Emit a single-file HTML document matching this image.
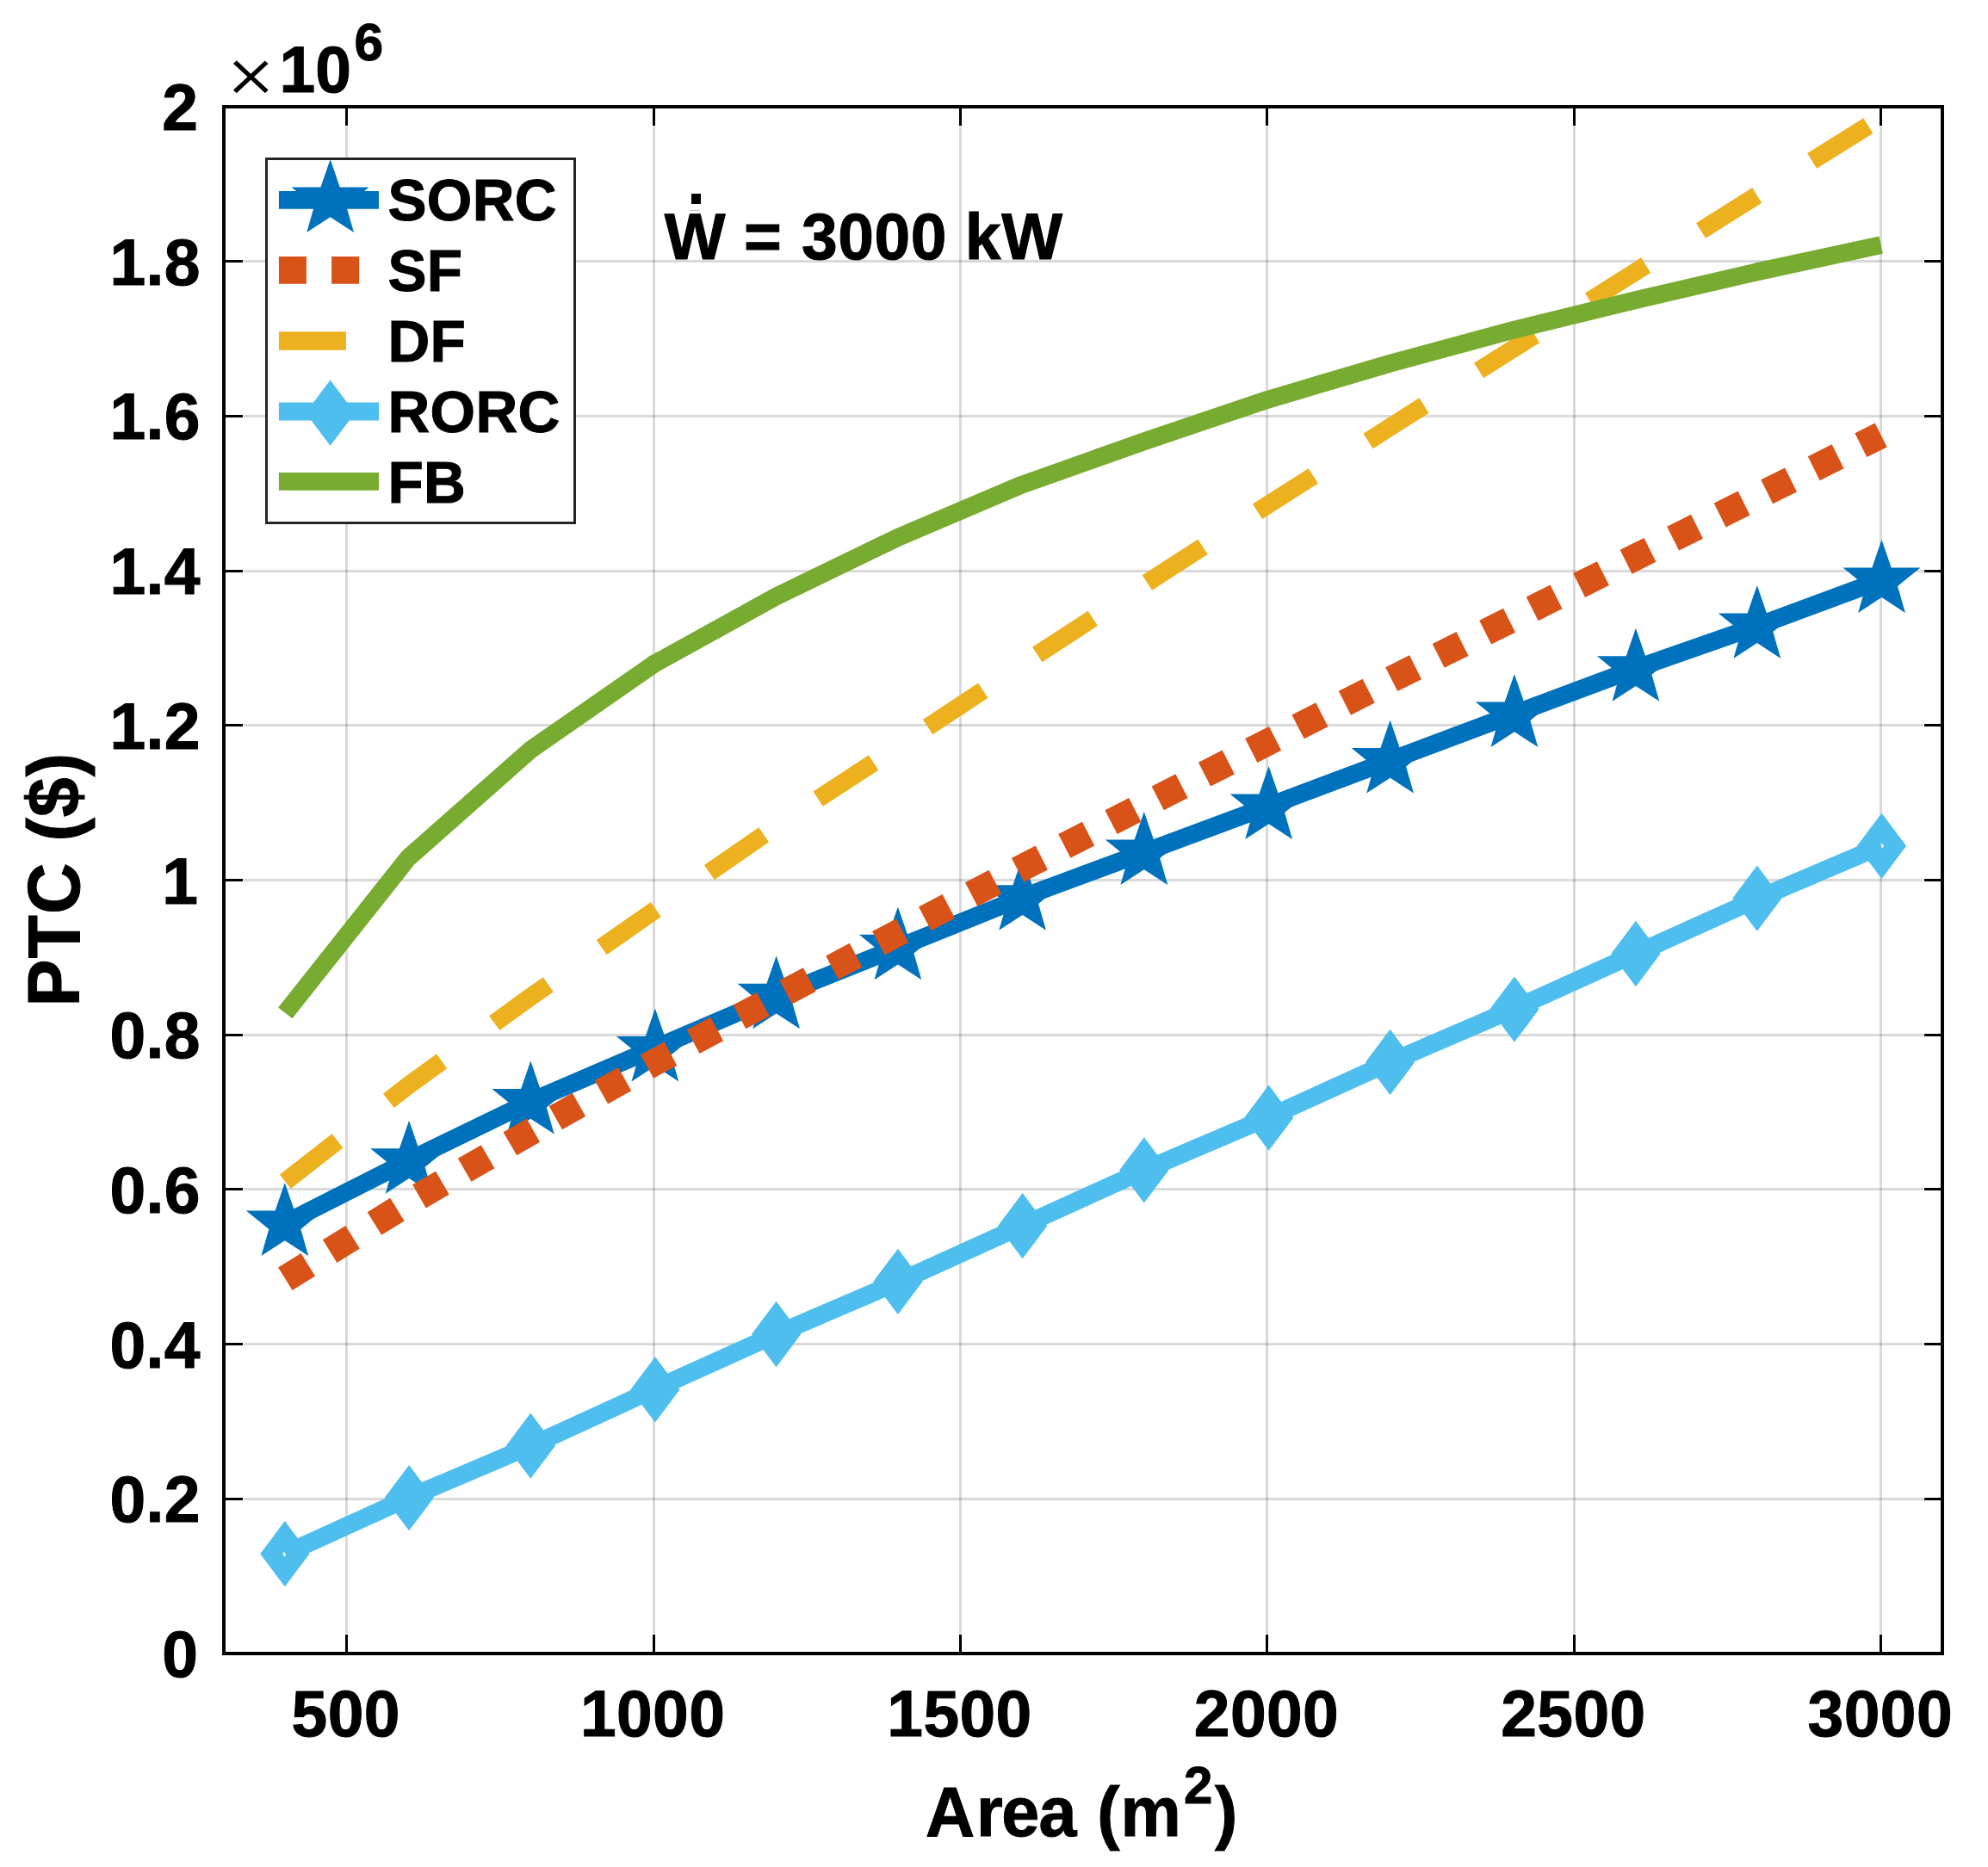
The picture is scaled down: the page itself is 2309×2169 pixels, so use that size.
<!DOCTYPE html>
<html lang="en"><head><meta charset="utf-8"><title>PTC vs Area</title>
<style>html,body{margin:0;padding:0;background:#fff;overflow:hidden}svg{display:block}text{font-family:"Liberation Sans",Arial,Helvetica,sans-serif;font-weight:700;fill:#000;stroke:#000;stroke-width:1px}</style></head><body>
<svg width="2309" height="2169" viewBox="0 0 2309 2169">
<rect width="2309" height="2169" fill="#fff"/>
<g stroke="#000" stroke-opacity="0.15" stroke-width="3" shape-rendering="crispEdges"><line x1="402.5" y1="147" x2="402.5" y2="1898"/><line x1="759.5" y1="147" x2="759.5" y2="1898"/><line x1="1115.5" y1="147" x2="1115.5" y2="1898"/><line x1="1471.5" y1="147" x2="1471.5" y2="1898"/><line x1="1828.5" y1="147" x2="1828.5" y2="1898"/><line x1="2184.5" y1="147" x2="2184.5" y2="1898"/><line x1="283" y1="1741.5" x2="2234" y2="1741.5"/><line x1="283" y1="1561.5" x2="2234" y2="1561.5"/><line x1="283" y1="1381.5" x2="2234" y2="1381.5"/><line x1="283" y1="1202.5" x2="2234" y2="1202.5"/><line x1="283" y1="1022.5" x2="2234" y2="1022.5"/><line x1="283" y1="842.5" x2="2234" y2="842.5"/><line x1="283" y1="663.5" x2="2234" y2="663.5"/><line x1="283" y1="483.5" x2="2234" y2="483.5"/><line x1="283" y1="303.5" x2="2234" y2="303.5"/></g>
<g stroke="#000" stroke-width="3" fill="none" shape-rendering="crispEdges"><rect x="260.0" y="124.0" width="1996.0" height="1797.0" stroke-width="4"/><line x1="402.5" y1="1920" x2="402.5" y2="1899"/><line x1="402.5" y1="125" x2="402.5" y2="146"/><line x1="759.5" y1="1920" x2="759.5" y2="1899"/><line x1="759.5" y1="125" x2="759.5" y2="146"/><line x1="1115.5" y1="1920" x2="1115.5" y2="1899"/><line x1="1115.5" y1="125" x2="1115.5" y2="146"/><line x1="1471.5" y1="1920" x2="1471.5" y2="1899"/><line x1="1471.5" y1="125" x2="1471.5" y2="146"/><line x1="1828.5" y1="1920" x2="1828.5" y2="1899"/><line x1="1828.5" y1="125" x2="1828.5" y2="146"/><line x1="2184.5" y1="1920" x2="2184.5" y2="1899"/><line x1="2184.5" y1="125" x2="2184.5" y2="146"/><line x1="261" y1="1741.5" x2="282" y2="1741.5"/><line x1="2255" y1="1741.5" x2="2235" y2="1741.5"/><line x1="261" y1="1561.5" x2="282" y2="1561.5"/><line x1="2255" y1="1561.5" x2="2235" y2="1561.5"/><line x1="261" y1="1381.5" x2="282" y2="1381.5"/><line x1="2255" y1="1381.5" x2="2235" y2="1381.5"/><line x1="261" y1="1202.5" x2="282" y2="1202.5"/><line x1="2255" y1="1202.5" x2="2235" y2="1202.5"/><line x1="261" y1="1022.5" x2="282" y2="1022.5"/><line x1="2255" y1="1022.5" x2="2235" y2="1022.5"/><line x1="261" y1="842.5" x2="282" y2="842.5"/><line x1="2255" y1="842.5" x2="2235" y2="842.5"/><line x1="261" y1="663.5" x2="282" y2="663.5"/><line x1="2255" y1="663.5" x2="2235" y2="663.5"/><line x1="261" y1="483.5" x2="282" y2="483.5"/><line x1="2255" y1="483.5" x2="2235" y2="483.5"/><line x1="261" y1="303.5" x2="282" y2="303.5"/><line x1="2255" y1="303.5" x2="2235" y2="303.5"/></g>
<g fill="none" stroke-linejoin="round" stroke-linecap="butt">
<polyline points="331.3,1421.0 473.9,1348.7 616.4,1279.5 759.0,1218.4 901.6,1157.3 1044.1,1100.3 1186.7,1042.8 1329.3,990.0 1471.9,937.0 1614.4,883.5 1757.0,830.0 1899.6,776.7 2042.1,726.9 2184.7,673.9" stroke="#0072BD" stroke-width="20.83"/>
<g fill="#0072BD" stroke="none"><polygon points="330.8,1374.1 342.0,1406.5 375.8,1406.5 349.3,1428.1 358.2,1459.0 330.8,1441.2 303.4,1459.0 312.3,1428.1 285.8,1406.5 319.6,1406.5"/><polygon points="475.1,1301.8 486.3,1334.2 520.1,1334.2 493.6,1355.8 502.5,1386.7 475.1,1368.9 447.7,1386.7 456.6,1355.8 430.1,1334.2 463.9,1334.2"/><polygon points="616.3,1232.6 627.5,1265.0 661.3,1265.0 634.8,1286.6 643.7,1317.5 616.3,1299.7 588.9,1317.5 597.8,1286.6 571.3,1265.0 605.1,1265.0"/><polygon points="760.9,1171.5 772.1,1203.9 805.9,1203.9 779.4,1225.5 788.3,1256.4 760.9,1238.6 733.5,1256.4 742.4,1225.5 715.9,1203.9 749.7,1203.9"/><polygon points="901.6,1110.4 912.8,1142.8 946.6,1142.8 920.1,1164.4 929.0,1195.3 901.6,1177.5 874.2,1195.3 883.1,1164.4 856.6,1142.8 890.4,1142.8"/><polygon points="1042.9,1053.4 1054.1,1085.8 1087.9,1085.8 1061.4,1107.4 1070.3,1138.3 1042.9,1120.5 1015.5,1138.3 1024.4,1107.4 997.9,1085.8 1031.7,1085.8"/><polygon points="1187.6,995.9 1198.8,1028.3 1232.6,1028.3 1206.1,1049.9 1215.0,1080.8 1187.6,1063.0 1160.2,1080.8 1169.1,1049.9 1142.6,1028.3 1176.4,1028.3"/><polygon points="1328.8,943.1 1340.0,975.5 1373.8,975.5 1347.3,997.1 1356.2,1028.0 1328.8,1010.2 1301.4,1028.0 1310.3,997.1 1283.8,975.5 1317.6,975.5"/><polygon points="1473.6,890.1 1484.8,922.5 1518.6,922.5 1492.1,944.1 1501.0,975.0 1473.6,957.2 1446.2,975.0 1455.1,944.1 1428.6,922.5 1462.4,922.5"/><polygon points="1614.6,836.6 1625.8,869.0 1659.6,869.0 1633.1,890.6 1642.0,921.5 1614.6,903.7 1587.2,921.5 1596.1,890.6 1569.6,869.0 1603.4,869.0"/><polygon points="1758.9,783.1 1770.1,815.5 1803.9,815.5 1777.4,837.1 1786.3,868.0 1758.9,850.2 1731.5,868.0 1740.4,837.1 1713.9,815.5 1747.7,815.5"/><polygon points="1899.9,729.8 1911.1,762.2 1944.9,762.2 1918.4,783.8 1927.3,814.7 1899.9,796.9 1872.5,814.7 1881.4,783.8 1854.9,762.2 1888.7,762.2"/><polygon points="2040.8,680.0 2052.0,712.4 2085.8,712.4 2059.3,734.0 2068.2,764.9 2040.8,747.1 2013.4,764.9 2022.3,734.0 1995.8,712.4 2029.6,712.4"/><polygon points="2185.5,627.0 2196.7,659.4 2230.5,659.4 2204.0,681.0 2212.9,711.9 2185.5,694.1 2158.1,711.9 2167.0,681.0 2140.5,659.4 2174.3,659.4"/></g>
<polyline points="331.3,1485.7 473.9,1397.4 616.4,1314.9 759.0,1234.9 901.6,1158.5 1044.1,1083.2 1186.7,1008.4 1329.3,935.2 1471.9,862.5 1614.4,790.0 1757.0,718.7 1899.6,647.3 2042.1,576.3 2184.7,505.5" stroke="#D95319" stroke-width="31.25" stroke-dasharray="31.2 29.72"/>
<polyline points="331.3,1372.8 473.9,1261.3 616.4,1158.0 759.0,1058.5 901.6,959.7 1044.1,866.9 1186.7,772.3 1329.3,679.1 1471.9,586.9 1614.4,496.3 1757.0,405.5 1899.6,315.8 2042.1,226.0 2184.7,136.8" stroke="#EDB120" stroke-width="20.83" stroke-dasharray="77 75.45"/>
<polyline points="331.3,1805.2 473.9,1740.2 616.4,1679.7 759.0,1614.4 901.6,1550.0 1044.1,1488.9 1186.7,1424.2 1329.3,1359.4 1471.9,1298.7 1614.4,1234.0 1757.0,1172.6 1899.6,1108.0 2042.1,1043.7 2184.7,982.8" stroke="#4DBEEE" stroke-width="20.83"/>
<g stroke="#4DBEEE" stroke-width="20.83" stroke-linejoin="miter" stroke-miterlimit="10"><polygon points="330.8,1784.4 346.4,1805.2 330.8,1826.0 315.2,1805.2"/><polygon points="475.1,1719.4 490.7,1740.2 475.1,1761.0 459.5,1740.2"/><polygon points="616.3,1658.9 631.9,1679.7 616.3,1700.5 600.7,1679.7"/><polygon points="760.9,1593.6 776.5,1614.4 760.9,1635.2 745.3,1614.4"/><polygon points="901.6,1529.2 917.2,1550.0 901.6,1570.8 886.0,1550.0"/><polygon points="1042.9,1468.1 1058.5,1488.9 1042.9,1509.7 1027.3,1488.9"/><polygon points="1187.6,1403.4 1203.2,1424.2 1187.6,1445.0 1172.0,1424.2"/><polygon points="1328.8,1338.6 1344.4,1359.4 1328.8,1380.2 1313.2,1359.4"/><polygon points="1473.6,1277.9 1489.2,1298.7 1473.6,1319.5 1458.0,1298.7"/><polygon points="1614.6,1213.2 1630.2,1234.0 1614.6,1254.8 1599.0,1234.0"/><polygon points="1758.9,1151.8 1774.5,1172.6 1758.9,1193.4 1743.3,1172.6"/><polygon points="1899.9,1087.2 1915.5,1108.0 1899.9,1128.8 1884.3,1108.0"/><polygon points="2040.8,1022.9 2056.4,1043.7 2040.8,1064.5 2025.2,1043.7"/><polygon points="2185.5,962.0 2201.1,982.8 2185.5,1003.6 2169.9,982.8"/></g>
<polyline points="331.3,1176.9 473.9,996.9 616.4,871.0 759.0,771.7 901.6,692.8 1044.1,623.8 1186.7,563.2 1329.3,512.6 1471.9,464.4 1614.4,422.2 1757.0,383.5 1899.6,348.6 2042.1,315.5 2184.7,284.6" stroke="#77AC30" stroke-width="20.83"/>
</g>
<g><text transform="translate(401.7,2016.7) scale(1,1.024)" font-size="75px" text-anchor="middle" letter-spacing="0.4">500</text><text transform="translate(758.1,2016.7) scale(1,1.024)" font-size="75px" text-anchor="middle" letter-spacing="0.4">1000</text><text transform="translate(1114.5,2016.7) scale(1,1.024)" font-size="75px" text-anchor="middle" letter-spacing="0.4">1500</text><text transform="translate(1471.0,2016.7) scale(1,1.024)" font-size="75px" text-anchor="middle" letter-spacing="0.4">2000</text><text transform="translate(1827.4,2016.7) scale(1,1.024)" font-size="75px" text-anchor="middle" letter-spacing="0.4">2500</text><text transform="translate(2183.8,2016.7) scale(1,1.024)" font-size="75px" text-anchor="middle" letter-spacing="0.4">3000</text><text transform="translate(230.0,1948.0) scale(1,1.024)" font-size="75px" text-anchor="end">0</text><text transform="translate(232.7,1768.3) scale(1,1.024)" font-size="75px" text-anchor="end" letter-spacing="0.3">0.2</text><text transform="translate(232.7,1588.6) scale(1,1.024)" font-size="75px" text-anchor="end" letter-spacing="0.3">0.4</text><text transform="translate(232.7,1408.9) scale(1,1.024)" font-size="75px" text-anchor="end" letter-spacing="0.3">0.6</text><text transform="translate(232.7,1229.2) scale(1,1.024)" font-size="75px" text-anchor="end" letter-spacing="0.3">0.8</text><text transform="translate(230.0,1049.5) scale(1,1.024)" font-size="75px" text-anchor="end">1</text><text transform="translate(232.7,869.8) scale(1,1.024)" font-size="75px" text-anchor="end" letter-spacing="0.3">1.2</text><text transform="translate(232.7,690.1) scale(1,1.024)" font-size="75px" text-anchor="end" letter-spacing="0.3">1.4</text><text transform="translate(232.7,510.4) scale(1,1.024)" font-size="75px" text-anchor="end" letter-spacing="0.3">1.6</text><text transform="translate(232.7,330.7) scale(1,1.024)" font-size="75px" text-anchor="end" letter-spacing="0.3">1.8</text><text transform="translate(230.0,151.0) scale(1,1.024)" font-size="75px" text-anchor="end">2</text></g>
<text transform="translate(263.35,118.6) scale(0.96,0.887)" font-size="100px" style="font-weight:400;stroke:#fff;stroke-width:1.5px">×</text>
<text transform="translate(324.6,106.9) scale(1,1.024)" font-size="75px">10</text><text transform="translate(411.5,69.7) scale(1,1.024)" font-size="60.5px">6</text>
<text transform="translate(0,300.7) scale(1,1.024)" font-size="75px"><tspan x="771.8">Ẇ </tspan><tspan x="864">= </tspan><tspan x="931.1" letter-spacing="0.5">3000 </tspan><tspan x="1120.7" letter-spacing="0.8">kW</tspan></text>
<rect x="798" y="231" width="21" height="13" fill="#fff"/><rect x="803" y="225.1" width="11.1" height="11.8" fill="#000" shape-rendering="crispEdges"/>
<text transform="translate(1072.0,2132.6) scale(1,1.024)" font-size="79px" letter-spacing="0.9"><tspan dx="3">A</tspan><tspan dx="1">r</tspan><tspan dx="-2.3">e</tspan><tspan dx="-1.5">a (m</tspan></text><text transform="translate(1375.0,2094.7) scale(1,1.024)" font-size="60px">2</text><text transform="translate(1411.0,2132.6) scale(1,1.024)" font-size="79px">)</text>
<text transform="translate(91.9,1169.5) rotate(-90) scale(1,1.024)" font-size="82.5px" letter-spacing="1">PTC ($)</text>
<rect x="309.5" y="184.5" width="358" height="423" fill="#fff" stroke="#262626" stroke-width="3" shape-rendering="crispEdges"/><line x1="323.9" y1="232.3" x2="440.0" y2="232.3" stroke="#0072BD" stroke-width="20.83"/><g fill="#0072BD"><polygon points="383.6,185.1 394.8,217.5 428.6,217.5 402.1,239.1 411.0,270.0 383.6,252.2 356.2,270.0 365.1,239.1 338.6,217.5 372.4,217.5"/></g><line x1="323.9" y1="313.9" x2="440.0" y2="313.9" stroke="#D95319" stroke-width="31.8" stroke-dasharray="32 29.2"/><line x1="323.9" y1="395.9" x2="440.0" y2="395.9" stroke="#EDB120" stroke-width="21.5" stroke-dasharray="78 75"/><line x1="323.9" y1="478.0" x2="440.0" y2="478.0" stroke="#4DBEEE" stroke-width="20.83"/><g fill="none" stroke="#4DBEEE" stroke-width="20.83" stroke-miterlimit="10"><polygon points="383.6,458.9 399.2,479.7 383.6,500.5 368.0,479.7"/></g><line x1="323.9" y1="559.4" x2="440.0" y2="559.4" stroke="#77AC30" stroke-width="20.83"/><text transform="translate(450.4,256.0) scale(1,1.024)" font-size="67.5px" letter-spacing="0.4">SORC</text><text transform="translate(450.4,338.0) scale(1,1.024)" font-size="67.5px" letter-spacing="0.4">SF</text><text transform="translate(450.4,420.0) scale(1,1.024)" font-size="67.5px" letter-spacing="0.4">DF</text><text transform="translate(450.4,502.0) scale(1,1.024)" font-size="67.5px" letter-spacing="0.4">RORC</text><text transform="translate(450.4,584.0) scale(1,1.024)" font-size="67.5px" letter-spacing="0.4">FB</text>
</svg></body></html>
